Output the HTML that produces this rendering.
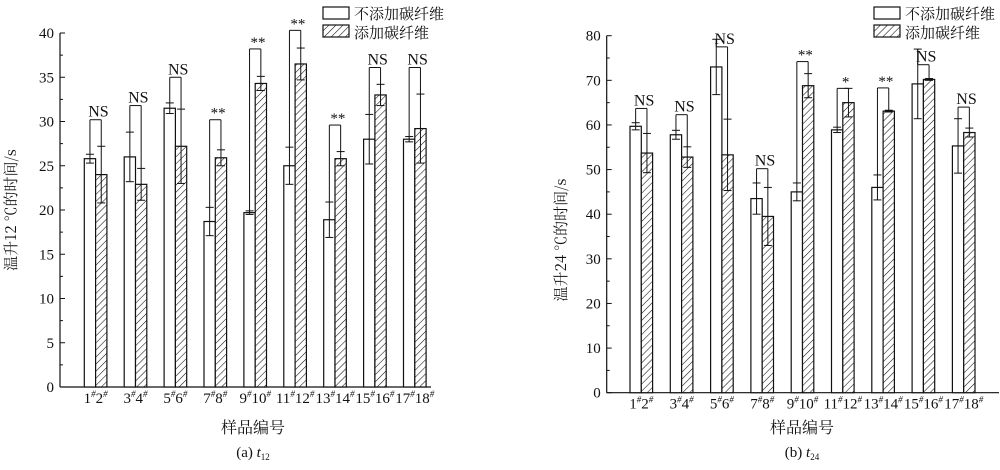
<!DOCTYPE html>
<html><head><meta charset="utf-8"><style>
html,body{margin:0;padding:0;background:#fff;}
svg text{font-family:"Liberation Serif","Noto Serif CJK SC",serif;fill:#111;}
</style></head><body>
<svg id="s" width="1000" height="465" xmlns="http://www.w3.org/2000/svg">
<defs>
<pattern id="h" patternUnits="userSpaceOnUse" width="5" height="5" patternTransform="rotate(45)">
<rect width="5" height="5" fill="#fff"/><line x1="0" y1="0" x2="0" y2="5" stroke="#111" stroke-width="1.1"/>
</pattern>
</defs>
</svg>
<script>
const s=document.getElementById('s');let out='';
const CJ='style="font-family:\'Noto Serif CJK SC\',\'Noto Sans CJK SC\',serif"';
function L(x1,y1,x2,y2,w){out+=`<line x1="${x1}" y1="${y1}" x2="${x2}" y2="${y2}" stroke="#111" stroke-width="${w||1.2}"/>`;}
function T(x,y,t,sz,a,extra){out+=`<text x="${x}" y="${y}" font-size="${sz}" text-anchor="${a||'middle'}" ${extra||''}>${t}</text>`;}
function chart(c){
 const Y=v=>c.y0-(v)*c.k;
 L(c.ax,c.y0,c.ax,c.ytop);L(c.ax,c.y0,c.xend,c.y0);
 for(let v=0;v<=c.max+1e-9;v+=c.minor){const maj=Math.abs(v/c.major-Math.round(v/c.major))<1e-6;L(c.ax,Y(v),c.ax+(maj?5:3),Y(v),1);
  if(maj)T(c.ax-6,Y(v)+5,v,15,'end');}
 const labs=[['1','2'],['3','4'],['5','6'],['7','8'],['9','10'],['11','12'],['13','14'],['15','16'],['17','18']];
 c.d.forEach((d,i)=>{const x=c.bx+i*c.sp,w=11.3;
  const [a,ea,b,eb,top,lab]=d;
  out+=`<rect x="${x}" y="${Y(a)}" width="${w}" height="${c.y0-Y(a)}" fill="#fff" stroke="#111" stroke-width="1.2"/>`;
  out+=`<rect x="${x+w}" y="${Y(b)}" width="${w}" height="${c.y0-Y(b)}" fill="url(#h)" stroke="#111" stroke-width="1.2"/>`;
  [[x+w/2,a,ea],[x+1.5*w,b,eb]].forEach(([cx,v,e])=>{L(cx,Y(v-e),cx,Y(v+e),1);L(cx-4,Y(v+e),cx+4,Y(v+e),1);L(cx-4,Y(v-e),cx+4,Y(v-e),1);});
  const lx=x+w/2,rx=x+1.5*w;
  L(lx,Y(a+ea),lx,Y(top),1);L(lx,Y(top),rx,Y(top),1);L(rx,Y(top),rx,Y(b+eb),1);
  if(lab=='NS')T(x+w*1.25,Y(top)-3,'NS',16);else T(x+w*1.25,Y(top)-2,lab,15);
  const l=labs[i];out+=`<text x="${x+w}" y="${c.y0+16}" font-size="15" text-anchor="middle">${l[0]}<tspan font-size="9" dy="-6" font-style="italic">#</tspan><tspan dy="6">${l[1]}</tspan><tspan font-size="9" dy="-6" font-style="italic">#</tspan></text>`;
 });
 out+=`<rect x="${c.lg}" y="7" width="26" height="12" fill="#fff" stroke="#111" stroke-width="1.2"/>`;
 out+=`<rect x="${c.lg}" y="25" width="26" height="12" fill="url(#h)" stroke="#111" stroke-width="1.2"/>`;
 T(c.lg+31,19,'不添加碳纤维',15,'start',CJ);
 T(c.lg+31,38,'添加碳纤维',15,'start',CJ);
 T(c.xc,433,'样品编号',16,'middle',CJ);
 out+=`<text x="${c.xc}" y="457" font-size="15" text-anchor="middle">(${c.cap}) <tspan font-style="italic">t</tspan><tspan font-size="9" dy="3">${c.sub}</tspan></text>`;
 out+=`<text transform="translate(${c.ylx},${c.yly}) rotate(-90)" x="0" y="0" font-size="15" text-anchor="middle" ${CJ}>${c.yl}</text>`;
}
chart({ax:60,y0:387,ytop:33,k:8.85,max:40,major:5,minor:2.5,xend:431,bx:84.3,sp:39.9,lg:323,xc:253,cap:'a',sub:'12',ylx:16,yly:210,yl:'温升12 ℃的时间/s',
 d:[[25.8,0.5,24,3.2,30.2,'NS'],[26,2.8,22.9,1.8,31.8,'NS'],[31.5,0.6,27.2,4.2,35,'NS'],[18.7,1.6,25.9,0.9,30.2,'**'],[19.7,0.2,34.3,0.8,38.2,'**'],[25,2.1,36.5,1.8,40.3,'**'],[18.9,2,25.8,0.8,29.6,'**'],[28,2.8,33,1.2,36.1,'NS'],[28,0.3,29.2,3.9,36.1,'NS']]});
chart({ax:606.7,y0:392.7,ytop:35.7,k:4.4625,max:80,major:10,minor:5,xend:999,bx:630,sp:40.3,lg:874,xc:802,cap:'b',sub:'24',ylx:566,yly:240,yl:'温升24 ℃的时间/s',
 d:[[59.7,0.8,53.7,4.4,63.7,'NS'],[57.8,1,52.8,2.3,62.3,'NS'],[73,6.2,53.3,8,77.5,'NS'],[43.5,3.5,39.5,6.5,50.2,'NS'],[45,2,68.8,2.7,74.2,'**'],[58.9,0.6,65,3.2,68.2,'*'],[46,2.8,63.1,0.2,68.3,'**'],[69.2,7.8,70.2,0.2,73.5,'NS'],[55.3,6.1,58.3,1,64,'NS']]});
s.insertAdjacentHTML('beforeend',out);
</script>
</body></html>
